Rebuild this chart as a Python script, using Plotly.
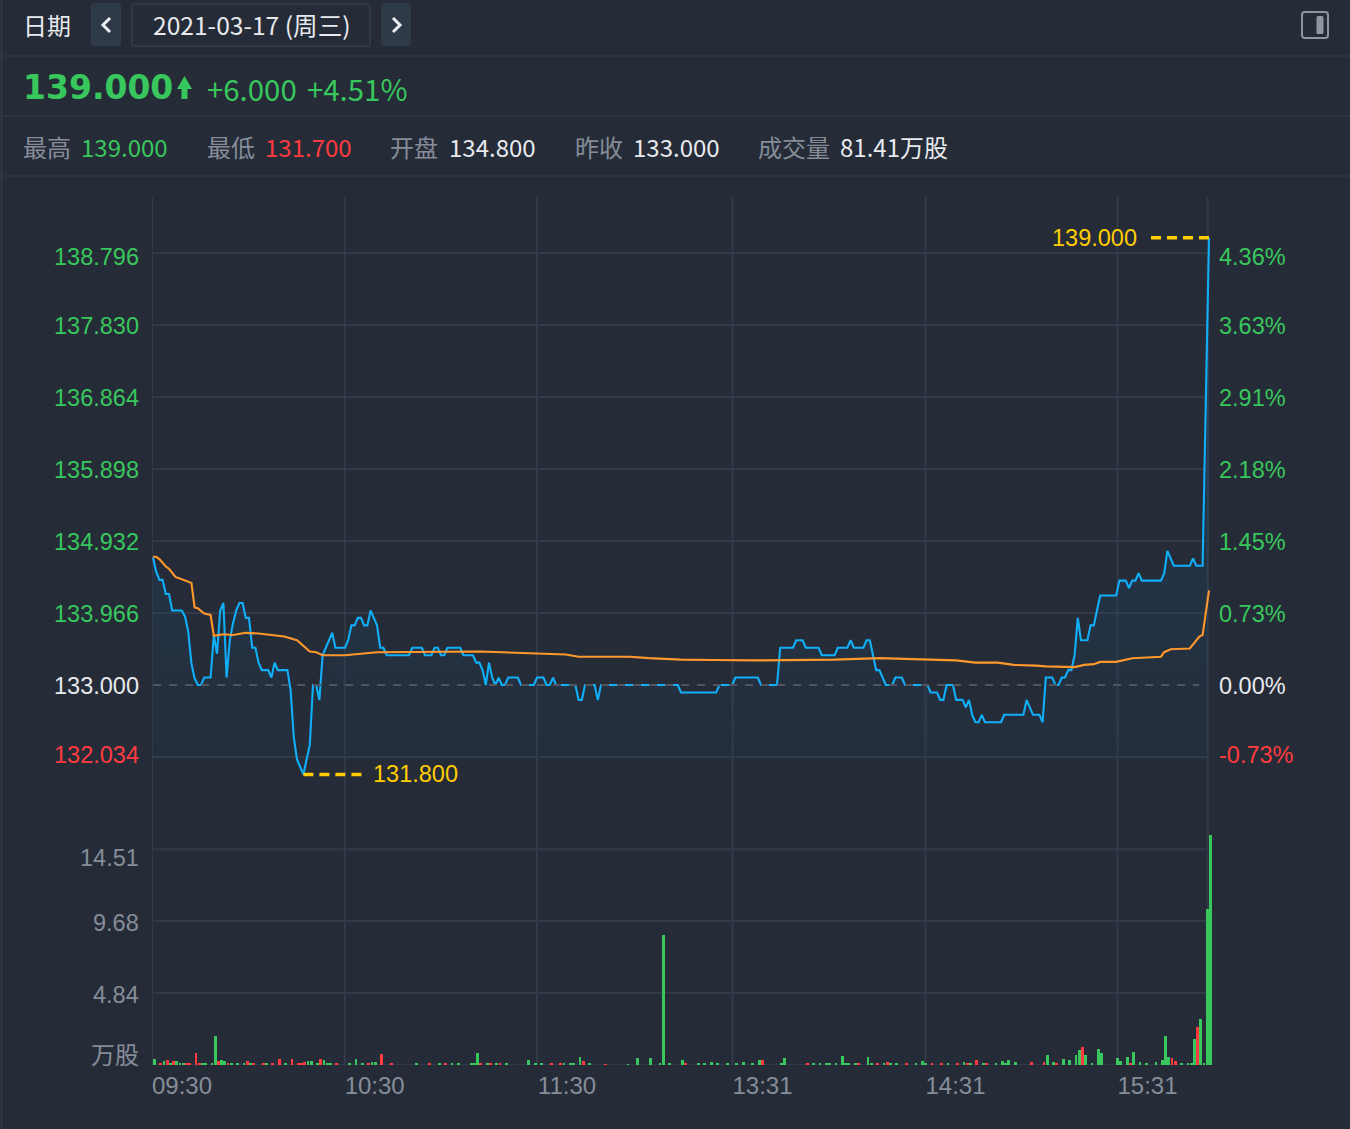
import plotly.graph_objects as go

W, H = 1350, 1129
BG = "#252c38"
GRID = "#303a49"
GREEN = "#38c75c"
RED = "#ff3b40"
BLUE = "#10aff8"
ORANGE = "#ff982c"
YELLOW = "#ffcc00"
GRAY = "#868d99"
LIGHT = "#e8eaee"

# ---------- data ----------
price = [
    134.71, 134.52, 134.41, 134.41, 134.22, 134.22, 134.0, 134.0, 134.0, 134.0,
    133.92, 133.72, 133.29, 133.09, 133.0, 133.0, 133.1, 133.1, 133.1, 133.67,
    133.42, 134.0, 134.1, 133.1, 133.6, 133.83, 134.0, 134.1, 134.1, 133.9,
    133.9, 133.5, 133.5, 133.3, 133.2, 133.2, 133.2, 133.1, 133.3, 133.2,
    133.2, 133.2, 133.2, 132.93, 132.3, 132.0, 131.9, 131.8, 132.0, 132.2,
    133.0, 133.0, 132.8, 133.4, 133.5, 133.6, 133.7, 133.5, 133.5, 133.5,
    133.5, 133.6, 133.8, 133.8, 133.9, 133.9, 133.8, 133.8, 134.0, 133.9,
    133.8, 133.5, 133.5, 133.4, 133.4, 133.4, 133.4, 133.4, 133.4, 133.4,
    133.4, 133.5, 133.5, 133.5, 133.5, 133.4, 133.4, 133.4, 133.5, 133.5,
    133.4, 133.4, 133.5, 133.5, 133.5, 133.5, 133.5, 133.4, 133.4, 133.4,
    133.4, 133.3, 133.3, 133.2, 133.0, 133.3, 133.1, 133.0, 133.1, 133.0,
    133.0, 133.1, 133.1, 133.1, 133.1, 133.0, 133.0, 133.0, 133.0, 133.0,
    133.1, 133.1, 133.1, 133.0, 133.0, 133.1, 133.0, 133.0, 133.0, 133.0,
    133.0, 133.0, 133.0, 132.8, 132.8, 133.0, 133.0, 133.0, 133.0, 132.8,
    133.0, 133.0, 133.0, 133.0, 133.0, 133.0, 133.0, 133.0, 133.0, 133.0,
    133.0, 133.0, 133.0, 133.0, 133.0, 133.0, 133.0, 133.0, 133.0, 133.0,
    133.0, 133.0, 133.0, 133.0, 133.0, 132.9, 132.9, 132.9, 132.9, 132.9,
    132.9, 132.9, 132.9, 132.9, 132.9, 132.9, 132.9, 133.0, 133.0, 133.0,
    133.0, 133.0, 133.1, 133.1, 133.1, 133.1, 133.1, 133.1, 133.1, 133.1,
    133.0, 133.0, 133.0, 133.0, 133.0, 133.0, 133.5, 133.5, 133.5, 133.5,
    133.5, 133.6, 133.6, 133.6, 133.5, 133.5, 133.5, 133.5, 133.5, 133.4,
    133.4, 133.4, 133.4, 133.4, 133.5, 133.5, 133.5, 133.5, 133.6, 133.5,
    133.5, 133.5, 133.5, 133.6, 133.6, 133.4, 133.2, 133.2, 133.1, 133.0,
    133.0, 133.0, 133.1, 133.1, 133.1, 133.0, 133.0, 133.0, 133.0, 133.0,
    133.0, 133.0, 133.0, 132.9, 132.9, 132.9, 132.8, 132.8, 133.0, 133.0,
    133.0, 132.8, 132.8, 132.8, 132.7, 132.8, 132.6, 132.5, 132.5, 132.6,
    132.5, 132.5, 132.5, 132.5, 132.5, 132.5, 132.6, 132.6, 132.6, 132.6,
    132.6, 132.6, 132.6, 132.8, 132.7, 132.6, 132.6, 132.6, 132.5, 133.1,
    133.1, 133.1, 133.0, 133.0, 133.1, 133.1, 133.2, 133.2, 133.4, 133.9,
    133.6, 133.6, 133.6, 133.8, 133.8, 134.0, 134.2, 134.2, 134.2, 134.2,
    134.2, 134.2, 134.4, 134.4, 134.4, 134.3, 134.4, 134.4, 134.5, 134.4,
    134.4, 134.4, 134.4, 134.4, 134.4, 134.4, 134.5, 134.8, 134.7, 134.6,
    134.6, 134.6, 134.6, 134.6, 134.6, 134.7, 134.6, 134.6, 134.6, 136.8,
    139.0,
]
minutes = list(range(len(price)))

avg_minutes = [0, 1, 2, 4, 5, 7, 9, 12, 13, 14, 16, 18, 19, 22, 25, 29, 33, 38, 41, 45,
               49, 51, 53, 60, 65, 70, 102, 117, 119, 129, 133, 149, 155, 165, 175, 189,
               213, 227, 251, 257, 264, 269, 276, 279, 288, 291, 294, 296, 301, 306, 315,
               316, 318, 324, 327, 328, 330]
avg_price = [134.72, 134.72, 134.69, 134.59, 134.56, 134.45, 134.42, 134.37, 134.04, 134.03,
             133.96, 133.94, 133.66, 133.68, 133.67, 133.7, 133.69, 133.67, 133.65, 133.6,
             133.45, 133.44, 133.4, 133.4, 133.42, 133.44, 133.45, 133.43, 133.42, 133.41,
             133.38, 133.38, 133.36, 133.34, 133.335, 133.33, 133.34, 133.36, 133.33, 133.3,
             133.3, 133.27, 133.26, 133.25, 133.24, 133.27, 133.28, 133.31, 133.31, 133.36,
             133.38, 133.44, 133.48, 133.49, 133.65, 133.67, 134.27]

green_minutes = [0, 3, 5, 7, 8, 9, 15, 16, 18, 19, 21, 22, 24, 26, 28, 30, 35, 41, 48, 49, 51, 53, 54, 55,
                 61, 63, 65, 68, 69, 82, 89, 93, 95, 99, 100, 101, 104, 107, 110, 117, 119, 121, 128,
                 130, 131, 133, 136, 148, 151, 155, 158, 159, 161, 165, 170, 172, 174, 176, 179, 182,
                 184, 187, 189, 196, 197, 206, 208, 210, 211, 213, 215, 216, 217, 219, 223, 224, 228,
                 230, 232, 238, 240, 241, 248, 253, 255, 259, 263, 265, 266, 267, 269, 279, 281, 284,
                 286, 288, 289, 291, 293, 295, 296, 301, 302, 304, 306, 308, 310, 313, 315, 316, 317,
                 321, 323, 324, 325, 327, 328, 329, 330]
green_volume = [.38, .25, .09, .27, .07, .11, .07, .13, .07, 1.95, .34, .29, .13, .16, .07, .09, .09, .13, .27, .27, .07, .34, .07, .07,
                .07, .38, .07, .18, .18, .07, .07, .07, .07, .07, .07, .83, .07, .07, .07, .34, .07, .07, .07,
                .07, .13, .52, .07, .05, .45, .47, .13, 8.74, .07, .34, .07, .13, .18, .07, .13, .07,
                .2, .07, .34, .07, .47, .07, .07, .13, .11, .09, .63, .09, .09, .07, .52, .13, .13,
                .07, .07, .13, .25, .07, .13, .18, .16, .13, .07, .27, .07, .31, .22, .65, .18, .43,
                .36, .7, 1.01, .7, .13, 1.08, .83, .45, .25, .54, .87, .18, .11, .18, .36, 1.95, .54,
                .07, .07, .07, 1.75, 3.09, .07, 10.48, 15.46]

red_minutes = [2, 4, 6, 10, 11, 13, 14, 20, 23, 29, 31, 34, 37, 39, 43, 45, 46, 47, 52, 57, 67, 71, 74, 86,
               91, 102, 105, 108, 124, 127, 134, 141, 166, 190, 204, 220, 226, 229, 235, 243, 246, 251,
               254, 257, 260, 274, 278, 282, 290, 305, 318, 319, 326]
red_volume = [.13, .34, .29, .13, .07, .83, .13, .27, .11, .25, .13, .07, .07, .38, .4, .07, .13, .2, .4, .07, .13, .74, .16, .11,
              .07, .07, .13, .13, .07, .07, .27, .05, .07, .36, .07, .07, .07, .2, .07, .07, .13, .13,
              .11, .31, .07, .2, .2, .16, 1.19, .11, .47, .29, 2.53]

price_ticks = [138.796, 137.830, 136.864, 135.898, 134.932, 133.966, 133.000, 132.034]
price_labels = ["138.796", "137.830", "136.864", "135.898", "134.932", "133.966", "133.000", "132.034"]
pct_labels = ["4.36%", "3.63%", "2.91%", "2.18%", "1.45%", "0.73%", "0.00%", "-0.73%"]
vol_ticks = [0, 4.84, 9.68, 14.51]
vol_labels = ["万股", "4.84", "9.68", "14.51"]
time_grid = [-0.3, 59.9, 120.0, 181.1, 241.4, 301.4, 329.6]
time_labels = ["09:30", "10:30", "11:30", "13:31", "14:31", "15:31", ""]
prev_close = 133.0
high_mark = 139.0
low_mark = 131.8

# ---------- pixel helpers (reference image coordinates) ----------
def fx(px):
    return px / W

def fy(py):
    return 1 - py / H

PX_PER_MIN = 3.2
X0 = 153
PX_PER_YUAN = 72 / 0.966
PX_PER_VOL = 72 / 4.84
x_left, x_right = 152, 1214
p_top, p_bot = 197, 800
v_top, v_bot = 820, 1065

fig = go.Figure()

# gradient area beneath the price line
fig.add_trace(go.Scatter(x=[minutes[0], minutes[-1]], y=[price_ticks[-1]] * 2, mode="lines",
                         line=dict(width=0, color="rgba(0,0,0,0)"), hoverinfo="skip",
                         showlegend=False, yaxis="y", cliponaxis=False))
fig.add_trace(go.Scatter(x=minutes, y=price, mode="lines", line=dict(color=BLUE, width=2.1),
                         fill="tonexty",
                         fillgradient=dict(type="vertical", start=139.0, stop=price_ticks[-1],
                                           colorscale=[[0, "rgba(22,100,160,0.24)"],
                                                       [0.7, "rgba(22,100,160,0.11)"],
                                                       [1, "rgba(22,100,160,0.03)"]]),
                         showlegend=False, yaxis="y", cliponaxis=False, name="价格"))
fig.add_trace(go.Scatter(x=avg_minutes, y=avg_price, mode="lines", line=dict(color=ORANGE, width=2.1),
                         showlegend=False, yaxis="y", cliponaxis=False, name="均价"))
fig.add_trace(go.Bar(x=green_minutes, y=green_volume, marker=dict(color=GREEN, line=dict(width=0)),
                     width=0.85, offset=0, yaxis="y2", showlegend=False, cliponaxis=False))
fig.add_trace(go.Bar(x=red_minutes, y=red_volume, marker=dict(color=RED, line=dict(width=0)),
                     width=0.85, offset=0, yaxis="y2", showlegend=False, cliponaxis=False))

shapes = []
# full-height vertical grid
for t in time_grid:
    shapes.append(dict(type="line", xref="x", yref="paper", x0=t, x1=t, y0=fy(1065), y1=fy(p_top),
                       line=dict(color=GRID, width=2), layer="below"))
# horizontal grid, ending on the last vertical line (the previous close is dashed instead)
for tick in price_ticks:
    if tick != prev_close:
        shapes.append(dict(type="line", xref="x", yref="y", x0=time_grid[0], x1=time_grid[-1], y0=tick, y1=tick,
                           line=dict(color=GRID, width=2), layer="below"))
for tick in vol_ticks:
    shapes.append(dict(type="line", xref="x", yref="y2", x0=time_grid[0], x1=time_grid[-1], y0=tick, y1=tick,
                       line=dict(color=GRID, width=2), layer="below"))
# previous close dashed line
shapes.append(dict(type="line", xref="x", yref="y", x0=minutes[0], x1=327, y0=prev_close, y1=prev_close,
                   line=dict(color="#50555f", width=2, dash="8px,8px"), layer="above"))
# high / low marker dashes
shapes.append(dict(type="line", xref="x", yref="y", x0=minutes[-1], x1=minutes[-1] - 18.7, y0=high_mark, y1=high_mark,
                   line=dict(color=YELLOW, width=3.5, dash="10px,6px"), layer="above"))
shapes.append(dict(type="line", xref="x", yref="y", x0=47, x1=65.5, y0=low_mark, y1=low_mark,
                   line=dict(color=YELLOW, width=3.5, dash="10px,6px"), layer="above"))
# header separators and left rule
for yy in (56, 116, 176):
    shapes.append(dict(type="line", xref="paper", yref="paper", x0=fx(3), x1=1, y0=fy(yy), y1=fy(yy),
                       line=dict(color="#2e3745", width=1.5), layer="below"))
shapes.append(dict(type="line", xref="paper", yref="paper", x0=fx(1.5), x1=fx(1.5), y0=0, y1=1,
                   line=dict(color="#343d4c", width=1.5), layer="below"))

def rounded(x0, y0, x1, y1, r):
    return (f"M {fx(x0+r)} {fy(y0)} L {fx(x1-r)} {fy(y0)} Q {fx(x1)} {fy(y0)} {fx(x1)} {fy(y0+r)} "
            f"L {fx(x1)} {fy(y1-r)} Q {fx(x1)} {fy(y1)} {fx(x1-r)} {fy(y1)} "
            f"L {fx(x0+r)} {fy(y1)} Q {fx(x0)} {fy(y1)} {fx(x0)} {fy(y1-r)} "
            f"L {fx(x0)} {fy(y0+r)} Q {fx(x0)} {fy(y0)} {fx(x0+r)} {fy(y0)} Z")

def panel(path, fill=None, line=None, width=0):
    shapes.append(dict(type="path", xref="paper", yref="paper", path=path,
                       fillcolor=fill or "rgba(0,0,0,0)",
                       line=dict(color=line or "rgba(0,0,0,0)", width=width), layer="below"))

panel(rounded(91, 3, 121, 46, 3), fill="#2f3a49")
panel(rounded(381, 3, 411, 46, 3), fill="#2f3a49")
panel(rounded(132, 4, 370, 46, 3), line="#2f3a49", width=2)
# toggle icon
panel(rounded(1302, 12, 1328, 38, 3), line="#8e96a4", width=2)
panel(rounded(1316.5, 16, 1323.5, 34, 1.5), fill="#8e96a4")

def poly(points, color, closed=True, width=0):
    d = "M " + " L ".join(f"{fx(a)} {fy(b)}" for a, b in points) + (" Z" if closed else "")
    shapes.append(dict(type="path", xref="paper", yref="paper", path=d,
                       fillcolor=color if closed else "rgba(0,0,0,0)",
                       line=dict(color=color if not closed else "rgba(0,0,0,0)", width=width), layer="above"))

poly([(110, 18), (103, 25), (110, 32)], "#eceef2", closed=False, width=3)
poly([(393, 18), (400, 25), (393, 32)], "#eceef2", closed=False, width=3)
poly([(184.5, 76), (192, 89), (187.5, 89), (187.5, 99), (181.5, 99), (181.5, 89), (177, 89)], GREEN)

annotations = []

def note(text, px, py, color, size, anchor="left", family="Noto Sans CJK SC"):
    annotations.append(dict(text=text, x=fx(px), y=fy(py), xref="paper", yref="paper",
                            xanchor=anchor, yanchor="middle", showarrow=False,
                            font=dict(family=family, size=size, color=color)))

CJK = "Noto Sans CJK SC"
LAT = "Liberation Sans"

note("日期", 21, 24, LIGHT, 24)
note("2021-03-17 (周三)", 151, 24, LIGHT, 24.6)
note("<b>139.000</b>", 21, 88, GREEN, 33, family="DejaVu Sans")
note("+6.000", 205, 88, GREEN, 29.4)
note("+4.51%", 305, 88, GREEN, 29.4)

stat_names = ["最高", "最低", "开盘", "昨收", "成交量"]
stat_values = ["139.000", "131.700", "134.800", "133.000", "81.41万股"]
stat_colors = [GREEN, RED, LIGHT, LIGHT, LIGHT]
stat_name_x = [21, 205, 388, 573, 756]
stat_value_x = [79, 263, 446.5, 630.5, 838]
for n, v, c, nx, vx in zip(stat_names, stat_values, stat_colors, stat_name_x, stat_value_x):
    note(n, nx, 146, GRAY, 24)
    note(v, vx, 146, c, 24)

# price and percent axis labels, tied to the axis values
label_shift = {0: -4, 7: 2}
for i, (tick, lab, pct) in enumerate(zip(price_ticks, price_labels, pct_labels)):
    col = LIGHT if tick == prev_close else (GREEN if tick > prev_close else RED)
    shift = label_shift.get(i, -0.5)
    annotations.append(dict(text=lab, x=fx(141), xref="paper", y=tick, yref="y", yshift=shift,
                            xanchor="right", yanchor="middle", showarrow=False,
                            font=dict(family=LAT, size=23.5, color=col)))
    annotations.append(dict(text=pct, x=fx(1217), xref="paper", y=tick, yref="y", yshift=shift,
                            xanchor="left", yanchor="middle", showarrow=False,
                            font=dict(family=LAT, size=23.5, color=col)))

# volume axis labels
vol_shift = {0: 12, 4.84: -2, 9.68: -2, 14.51: -9}
for tick, lab in zip(vol_ticks, vol_labels):
    annotations.append(dict(text=lab, x=fx(141), xref="paper", y=tick, yref="y2", yshift=vol_shift[tick],
                            xanchor="right", yanchor="middle", showarrow=False,
                            font=dict(family=CJK if tick == 0 else LAT, size=24 if tick == 0 else 23.5, color=GRAY)))

# high / low value labels
annotations.append(dict(text=f"{high_mark:.3f}", x=fx(1139), xref="paper", y=high_mark, yref="y",
                        xanchor="right", yanchor="middle", showarrow=False,
                        font=dict(family=LAT, size=23.5, color=YELLOW)))
annotations.append(dict(text=f"{low_mark:.3f}", x=fx(371), xref="paper", y=low_mark, yref="y",
                        xanchor="left", yanchor="middle", showarrow=False,
                        font=dict(family=LAT, size=23.5, color=YELLOW)))

fig.update_layout(
    width=W, height=H,
    margin=dict(l=0, r=0, t=0, b=0, autoexpand=False),
    paper_bgcolor=BG, plot_bgcolor="rgba(0,0,0,0)",
    showlegend=False, bargap=0, barmode="overlay",
    shapes=shapes, annotations=annotations,
    xaxis=dict(domain=[fx(x_left), fx(x_right)],
               range=[(x_left - X0) / PX_PER_MIN, (x_right - X0) / PX_PER_MIN],
               anchor="y2", tickmode="array", tickvals=time_grid, ticktext=time_labels,
               ticklabelshift=30, ticks="", showgrid=False, zeroline=False, showline=False,
               tickfont=dict(family=LAT, size=24, color=GRAY), ticklabelstandoff=4),
    yaxis=dict(domain=[fy(p_bot), fy(p_top)],
               range=[prev_close + (685 - p_bot) / PX_PER_YUAN, prev_close + (685 - p_top) / PX_PER_YUAN],
               tickmode="array", tickvals=price_ticks, showticklabels=False, ticks="",
               showgrid=False, zeroline=False, showline=False, anchor="x"),
    yaxis2=dict(domain=[fy(v_bot), fy(v_top)],
                range=[0, (v_bot - v_top) / PX_PER_VOL],
                tickmode="array", tickvals=vol_ticks, showticklabels=False, ticks="",
                showgrid=False, zeroline=False, showline=False, anchor="x"),
)

fig.write_html("out.html", config=dict(displayModeBar=False),
               post_script="document.body.style.margin='0';document.body.style.background='%s';" % BG)
